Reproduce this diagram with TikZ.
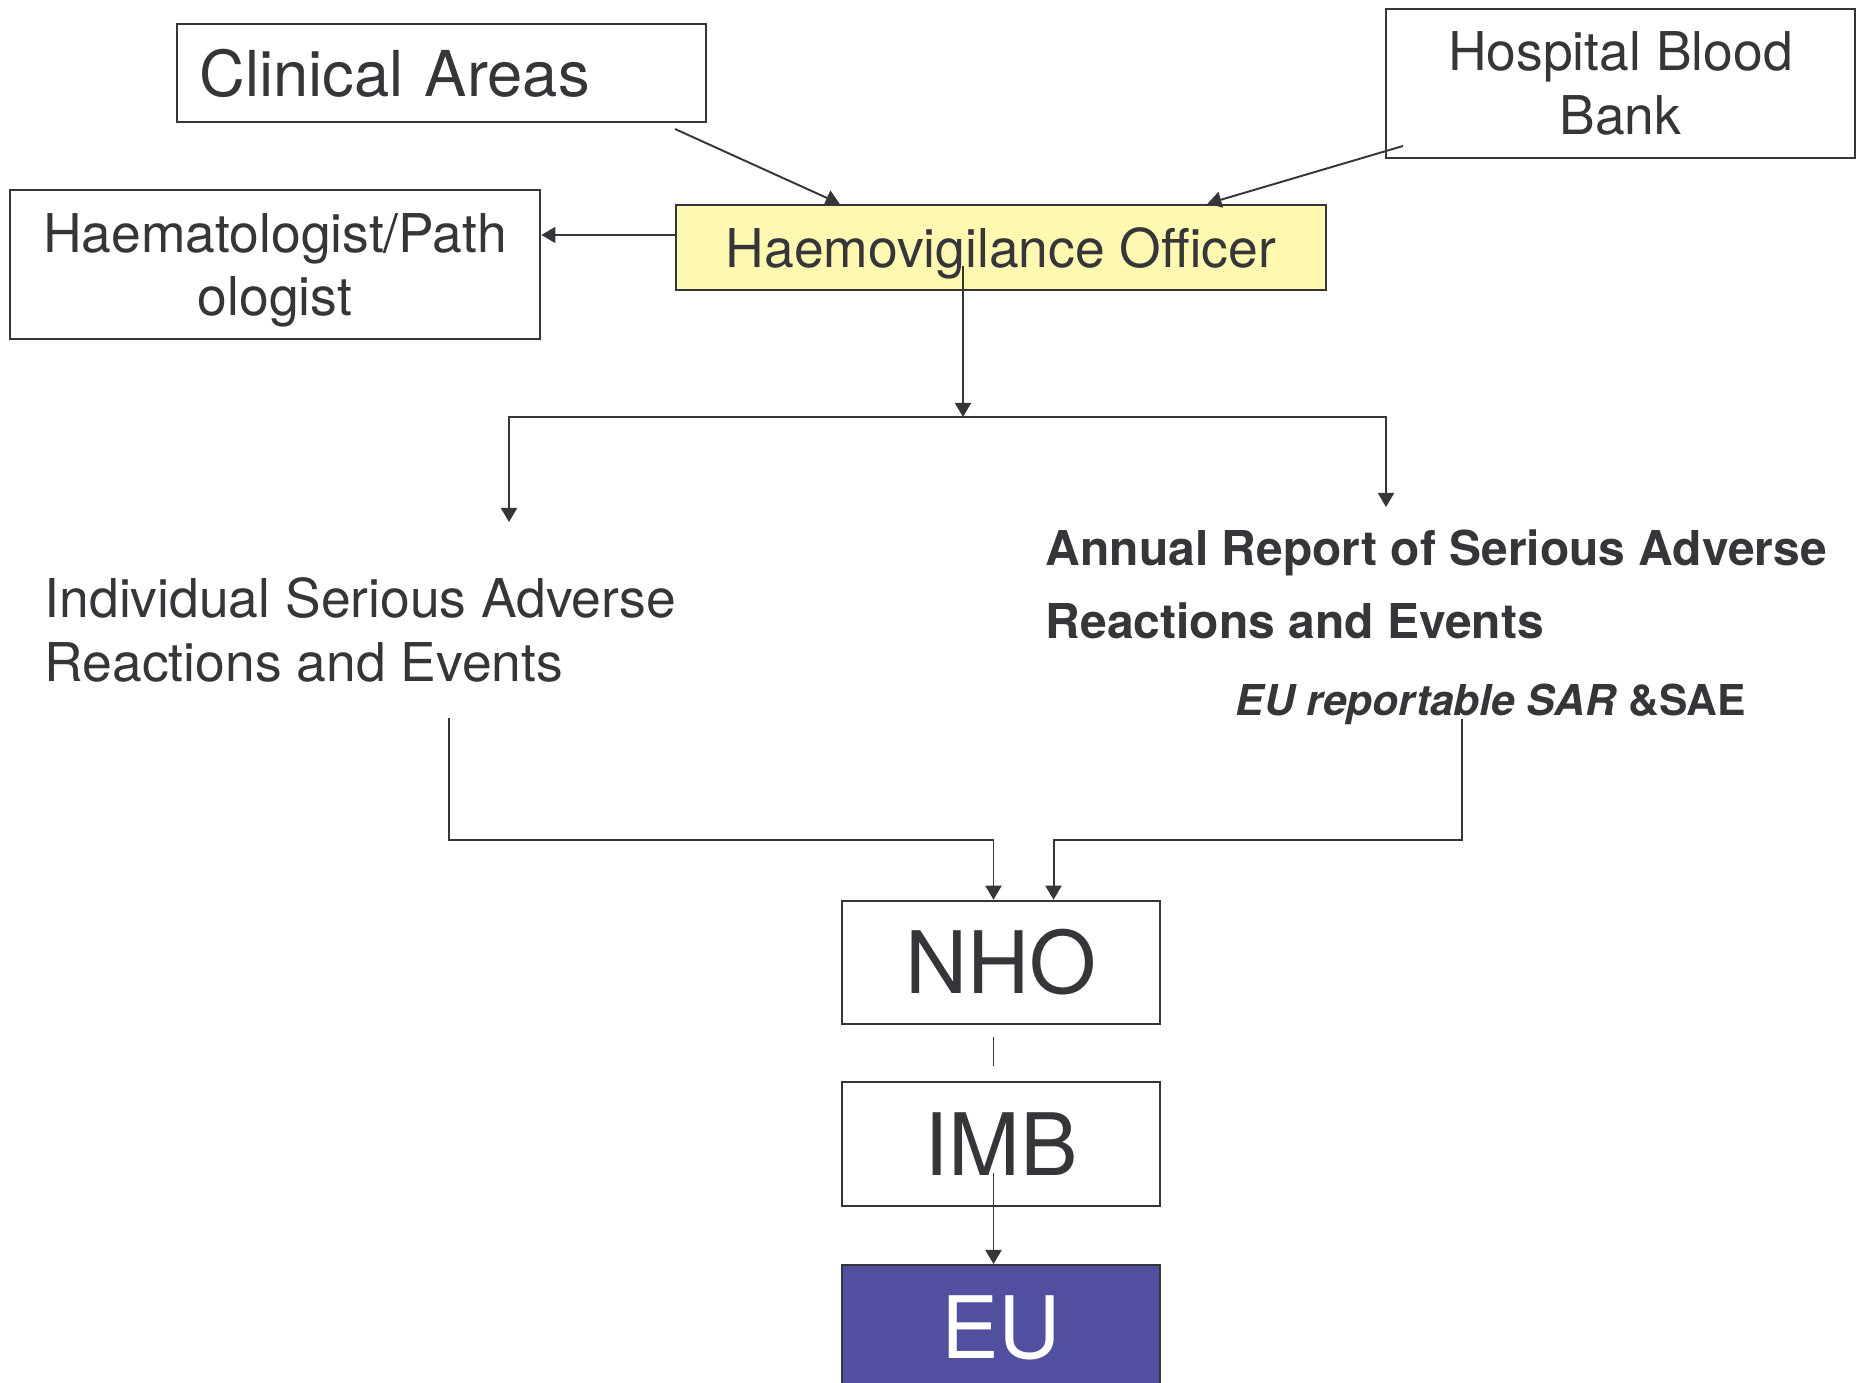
\documentclass[tikz,border=0pt]{standalone}
\usepackage{fontspec}
\setmainfont{TeX Gyre Heros}
\usetikzlibrary{arrows.meta}
\definecolor{inkgrey}{RGB}{53,53,58}
\definecolor{hvoyellow}{RGB}{255,248,176}
\definecolor{eublue}{RGB}{81,80,160}
\newcommand\areafont{\fontsize{18}{22}\selectfont}
\newcommand\boxfont{\fontsize{15.2}{18.1}\selectfont}
\newcommand\reportfont{\fontsize{13.65}{20.8}\selectfont\bfseries}
\newcommand\eurepfont{\fontsize{12.1}{14.5}\selectfont\bfseries}
\newcommand\agencyfont{\fontsize{24.5}{29}\selectfont}
\tikzset{
 box/.style={draw=inkgrey, line width=0.7pt, text=inkgrey, inner sep=0pt, align=center},
 agency/.style={box, minimum width=3.18cm, minimum height=1.23cm, font=\agencyfont},
 freetext/.style={text=inkgrey, inner sep=0pt, align=left, anchor=north west},
 flow/.style={draw=inkgrey, line width=0.55pt, -{Triangle[length=0.14cm,width=0.16cm]}},
 plain/.style={draw=inkgrey, line width=0.55pt}
}
\begin{document}
\begin{tikzpicture}[x=0.01cm,y=-0.01cm]
 \useasboundingbox (0,0) rectangle (1861,1383);
 % sources
 \node[box, align=left, inner xsep=0.23cm, text width=4.83cm, minimum height=0.98cm, font=\areafont] (clin) at (441.5,73) {Clinical Areas};
 \node[box, minimum width=4.69cm, minimum height=1.49cm, font=\boxfont] (hbb) at (1620.5,83.5) {Hospital Blood\\Bank};
 \node[box, minimum width=5.30cm, minimum height=1.49cm, text depth=0pt, font=\boxfont] (haem) at (275,264.5) {Haematologist/Path\\ologist};
 \node[box, fill=hvoyellow, minimum width=6.50cm, minimum height=0.85cm, text depth=0pt, font=\boxfont] (hvo) at (1001,247.5) {Haemovigilance Officer};
 % reports
 \node[freetext, font=\boxfont] (indiv) at (44,577) {Individual Serious Adverse\\Reactions and Events};
 \node[freetext, font=\reportfont] (annual) at (1045,529) {Annual Report of Serious Adverse\\Reactions and Events};
 \node[freetext, font=\eurepfont] (eurep) at (1235,683) {\textit{EU reportable SAR} \&SAE};
 % agencies
 \node[agency] (nho) at (1001,962.5) {NHO};
 \node[agency, minimum height=1.24cm] (imb) at (1001,1144) {IMB};
 \node[agency, fill=eublue, text=white, anchor=north, minimum height=1.6cm, text depth=0.37cm] (eu) at (1001,1264) {EU};
 % free ends
 \coordinate (clinout) at (675,129);
 \coordinate (hbbout) at (1403,146);
 \coordinate (hvoleft) at ([yshift=1.25mm]hvo.west);
 \coordinate (split) at (963,417);
 \coordinate (indivin) at (509,522);
 \coordinate (annualin) at (1386,507);
 \coordinate (indivout) at (449,718);
 \coordinate (eurepout) at (1462,719);
 % connectors
 \draw[flow] (clinout) -- ([xshift=1.65cm]hvo.north west);
 \draw[flow] (hbbout) -- ([xshift=-1.20cm]hvo.north east);
 \draw[flow] (hvoleft) -- (hvoleft -| haem.east);
 \draw[flow] ([shift={(-0.38cm,-0.185cm)}]hvo.center) -- (split);
 \draw[flow] (split) -| (indivin);
 \draw[flow] (split) -| (annualin);
 \draw[flow] (indivout) -- ++(0,122) -| ([xshift=-0.75mm]nho.north);
 \draw[flow] (eurepout) -- ++(0,121) -| ([xshift=5.25mm]nho.north);
 \draw[plain] ([shift={(-0.75mm,-1.2mm)}]nho.south) -- ([shift={(-0.75mm,1.5mm)}]imb.north);
 \draw[flow] ([shift={(-0.75mm,-2.9mm)}]imb.center) -- ([xshift=-0.75mm]eu.north);
\end{tikzpicture}
\end{document}
